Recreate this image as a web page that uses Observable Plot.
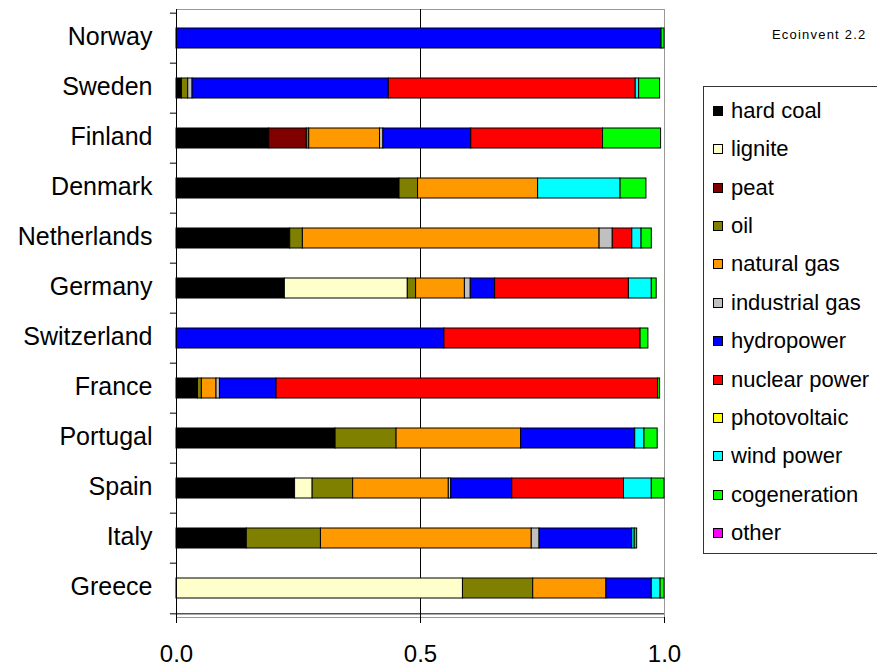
<!DOCTYPE html>
<html>
<head>
<meta charset="utf-8">
<script src="https://cdn.jsdelivr.net/npm/d3@7"></script>
<script src="https://cdn.jsdelivr.net/npm/@observablehq/plot@0.6"></script>
<style>
  html, body { margin: 0; padding: 0; background: #fff; overflow: hidden; }
  #wrap { position: relative; width: 877px; height: 668px; font-family: "Liberation Sans", Arial, sans-serif; }
  #note { position: absolute; left: 772px; top: 27px; font-size: 13px; letter-spacing: 1.2px; color: #000; }
  #legend { position: absolute; left: 703px; top: 86px; width: 200px; height: 468px; border: 1px solid #333; box-sizing: border-box; }
  .item { position: absolute; left: 9px; height: 38px; display: flex; align-items: center; font-size: 22px; color: #000; white-space: nowrap; }
  .sw { width: 8px; height: 8px; border: 1px solid #000; margin-right: 8px; }
</style>
</head>
<body>
<div id="wrap"></div>
<script>
// Countries, top to bottom
const countries = ["Norway", "Sweden", "Finland", "Denmark", "Netherlands", "Germany",
  "Switzerland", "France", "Portugal", "Spain", "Italy", "Greece"];

// Energy sources (stack order) and their fill colours
const sources = ["hard coal", "lignite", "peat", "oil", "natural gas", "industrial gas",
  "hydropower", "nuclear power", "photovoltaic", "wind power", "cogeneration", "other"];
const colors = ["#000000", "#FFFFCC", "#800000", "#808000", "#FF9900", "#C0C0C0",
  "#0000FF", "#FF0000", "#FFFF00", "#00FFFF", "#00FF00", "#FF00FF"];

// Share of electricity production per source, one value per country (in country order)
const hardCoal      = [0, 0.011, 0.190, 0.457, 0.233, 0.222, 0, 0.044, 0.326, 0.243, 0.144, 0];
const lignite       = [0, 0, 0, 0, 0, 0.252, 0, 0, 0, 0.036, 0, 0.587];
const peat          = [0, 0, 0.077, 0, 0, 0, 0, 0, 0, 0, 0, 0];
const oil           = [0, 0.013, 0.005, 0.038, 0.026, 0.017, 0, 0.008, 0.125, 0.083, 0.152, 0.144];
const naturalGas    = [0, 0, 0.145, 0.246, 0.608, 0.100, 0, 0.030, 0.255, 0.196, 0.432, 0.150];
const industrialGas = [0, 0.009, 0.007, 0, 0.027, 0.012, 0, 0.007, 0, 0.005, 0.016, 0];
const hydropower    = [0.994, 0.402, 0.180, 0, 0, 0.050, 0.549, 0.116, 0.234, 0.125, 0.190, 0.093];
const nuclear       = [0, 0.506, 0.270, 0, 0.040, 0.274, 0.402, 0.782, 0, 0.229, 0, 0];
const photovoltaic  = [0, 0, 0, 0, 0, 0, 0, 0, 0, 0, 0, 0];
const windPower     = [0, 0.007, 0, 0.169, 0.019, 0.047, 0, 0, 0.019, 0.057, 0.005, 0.018];
const cogeneration  = [0.006, 0.043, 0.119, 0.053, 0.021, 0.010, 0.016, 0.004, 0.027, 0.026, 0.005, 0.008];
const other         = [0, 0, 0, 0, 0, 0, 0, 0, 0, 0, 0, 0];

// X-axis tick values
const xTicks = [0, 0.5, 1];

const series = [hardCoal, lignite, peat, oil, naturalGas, industrialGas,
  hydropower, nuclear, photovoltaic, windPower, cogeneration, other];

// Long table for the stacked bars (zero shares are skipped)
const rows = [];
countries.forEach((c, i) => {
  sources.forEach((s, j) => {
    const v = series[j][i];
    if (v > 0) rows.push({country: c, source: s, value: v});
  });
});

const W = 877, H = 668;
const mt = 9, mb = 51, ml = 176, mr = 213;
const step = (H - mt - mb) / countries.length;

const chart = Plot.plot({
  width: W,
  height: H,
  marginTop: mt,
  marginBottom: mb,
  marginLeft: ml,
  marginRight: mr,
  style: {fontFamily: "'Liberation Sans', Arial, sans-serif", background: "#fff", color: "#000"},
  x: {domain: [0, 1]},
  y: {domain: countries, paddingInner: 0.6, paddingOuter: 0.3},
  color: {domain: sources, range: colors},
  marks: [
    Plot.frame({stroke: "#999"}),
    Plot.ruleX([0.5], {stroke: "#000", strokeWidth: 1}),
    Plot.barX(rows, Plot.stackX({
      x: "value", y: "country", fill: "source", order: sources,
      stroke: "#000", strokeWidth: 1
    })),
    // category boundary ticks on the left axis
    Plot.ruleY(countries, {y: d => d, x1: -0.0125, x2: 0, dy: -step / 2, stroke: "#000"}),
    // bottom axis line
    Plot.ruleY([countries[countries.length - 1]], {x1: -0.0125, x2: 1, dy: step / 2, stroke: "#000"}),
    Plot.ruleX([0], {stroke: "#000"}),
    Plot.axisY({tickSize: 0, tickPadding: 24, fontSize: 25, label: null, dy: -2}),
    Plot.axisX({ticks: xTicks, tickFormat: d3.format(".1f"), tickSize: 6, tickPadding: 21, fontSize: 24, label: null})
  ]
});

const wrap = document.getElementById("wrap");
wrap.appendChild(chart);

const note = document.createElement("div");
note.id = "note";
note.textContent = "Ecoinvent 2.2";
wrap.appendChild(note);

const legend = document.createElement("div");
legend.id = "legend";
sources.forEach((s, j) => {
  const item = document.createElement("div");
  item.className = "item";
  item.style.top = (5 + j * 38.36) + "px";
  const sw = document.createElement("span");
  sw.className = "sw";
  sw.style.background = colors[j];
  const label = document.createElement("span");
  label.textContent = s;
  item.appendChild(sw);
  item.appendChild(label);
  legend.appendChild(item);
});
wrap.appendChild(legend);
</script>
</body>
</html>
